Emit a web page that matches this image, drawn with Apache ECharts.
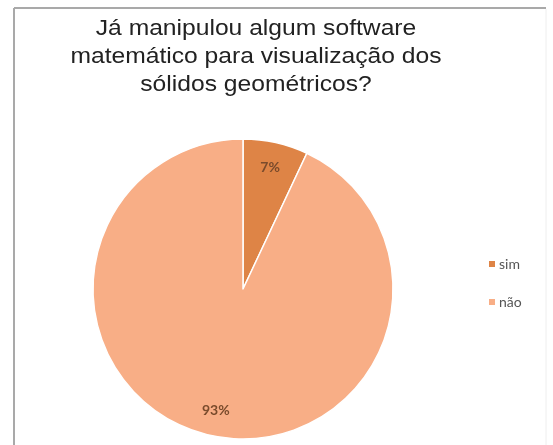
<!DOCTYPE html>
<html>
<head>
<meta charset="utf-8">
<script src="https://cdn.jsdelivr.net/npm/echarts@6/dist/echarts.min.js"></script>
<style>
  html, body { margin: 0; padding: 0; background: #ffffff; }
  #chart { width: 553px; height: 445px; }
</style>
</head>
<body>
<div id="chart"></div>
<script>
// Answers to the survey question
var categories = ['sim', 'não'];
var values = [7, 93];
var colors = ['#DE8446', '#F8AE86'];
var titleText = 'Já manipulou algum software\nmatemático para visualização dos\nsólidos geométricos?';

var pieData = categories.map(function (name, i) {
  return { name: name, value: values[i], itemStyle: { color: colors[i] } };
});

var chart = echarts.init(document.getElementById('chart'), null, { renderer: 'canvas' });

var center = [243, 289];
var radius = 150;

chart.setOption({
  backgroundColor: '#ffffff',
  animation: false,
  legend: {
    orient: 'vertical',
    left: 482,
    top: 252,
    itemWidth: 8,
    itemHeight: 8,
    itemGap: 24,
    icon: 'rect',
    textStyle: { fontFamily: 'Lato', fontSize: 14, color: '#555555', padding: [0, 0, 0, -2] },
    data: categories
  },
  graphic: [
    { type: 'line', shape: { x1: 14, y1: 8, x2: 546, y2: 8 }, style: { stroke: '#a9a9a9', lineWidth: 2 } },
    { type: 'line', shape: { x1: 14, y1: 8, x2: 14, y2: 445 }, style: { stroke: '#a9a9a9', lineWidth: 2 } },
    { type: 'line', shape: { x1: 546, y1: 9, x2: 546, y2: 445 }, style: { stroke: '#eeeeee', lineWidth: 1 } },
    {
      // chart title, slightly widened
      type: 'text',
      x: 256,
      y: 15,
      scaleX: 1.12,
      style: {
        text: titleText,
        fontFamily: 'Liberation Sans',
        fontSize: 22,
        lineHeight: 28,
        fill: '#222222',
        align: 'center',
        verticalAlign: 'top'
      }
    }
  ],
  series: [
    {
      type: 'pie',
      center: center,
      radius: radius,
      startAngle: 90,
      clockwise: true,
      silent: true,
      label: { show: false },
      labelLine: { show: false },
      itemStyle: { borderColor: '#ffffff', borderWidth: 1.5 },
      data: pieData
    },
    {
      // ring used only to place the percentage labels near the rim
      type: 'pie',
      center: center,
      radius: [radius * 0.62, radius],
      startAngle: 90,
      clockwise: true,
      silent: true,
      itemStyle: { color: 'rgba(0,0,0,0)' },
      label: {
        show: true,
        position: 'inside',
        formatter: '{c}%',
        fontFamily: 'Lato',
        fontSize: 14,
        fontWeight: 'bold',
        color: '#7a4b2c'
      },
      labelLine: { show: false },
      data: categories.map(function (name, i) { return { name: name, value: values[i] }; })
    }
  ]
});
</script>
</body>
</html>
